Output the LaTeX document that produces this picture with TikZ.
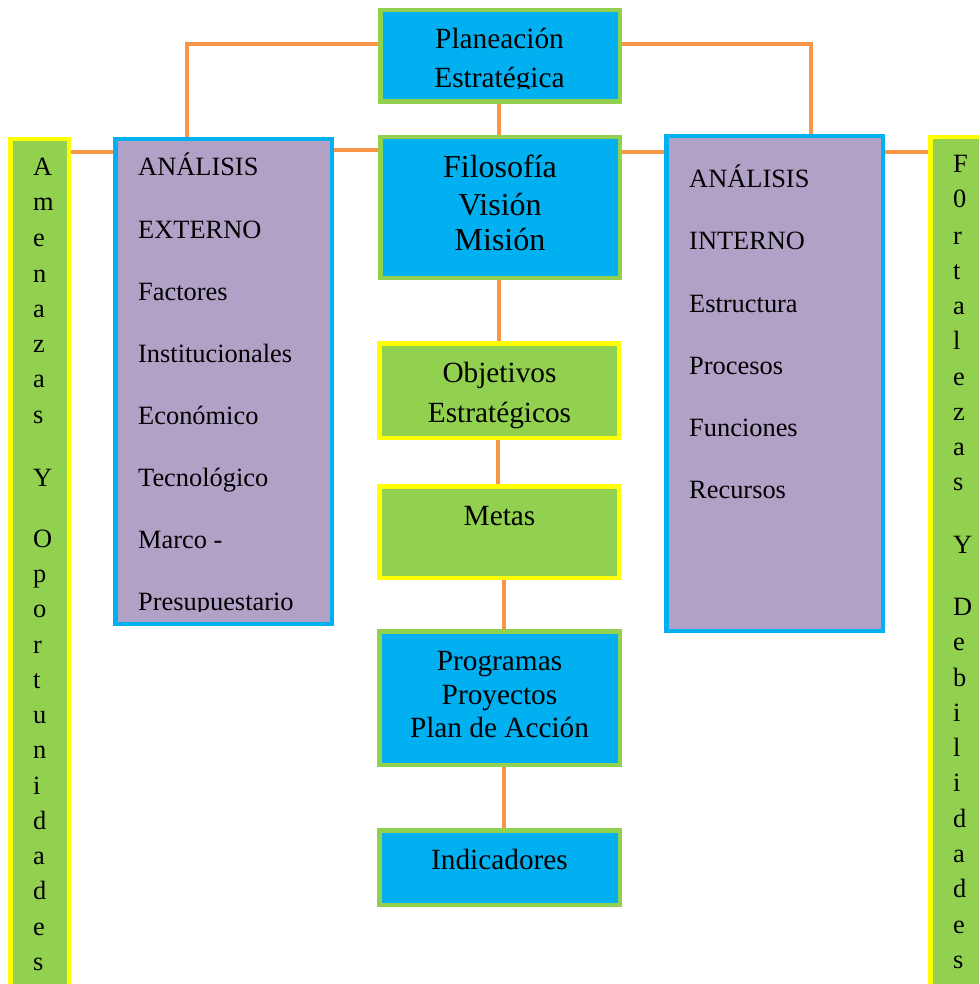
\documentclass[tikz,border=0pt]{standalone}
\usepackage{fontspec}
\setmainfont{Liberation Serif}
\definecolor{cblue}{HTML}{00B0F0}
\definecolor{cgreen}{HTML}{92D050}
\definecolor{cpurple}{HTML}{B2A1C7}
\definecolor{cyellow}{HTML}{FFFF00}
\definecolor{corange}{HTML}{F79646}
\tikzset{
  boxbase/.style={rectangle, inner sep=0, line width=4.5pt, minimum width=239.5pt},
  bluebox/.style={boxbase, fill=cblue, draw=cgreen},
  greenbox/.style={boxbase, fill=cgreen, draw=cyellow},
  purplebox/.style={boxbase, fill=cpurple, draw=cblue, minimum width=216.5pt},
  colbox/.style={boxbase, fill=cgreen, draw=cyellow},
  conn/.style={draw=corange, line width=4pt},
  txt/.style={inner sep=0, anchor=base},
  ltxt/.style={inner sep=0, anchor=base west},
  fmid/.style={font=\fontsize{29.3}{33}\selectfont},
  fbig/.style={font=\fontsize{32}{36}\selectfont},
  fsmall/.style={font=\fontsize{26.4}{30}\selectfont}
}
\begin{document}
\begin{tikzpicture}[x=1pt, y=-1pt]
\clip (0,0) rectangle (979,984);
\fill[white] (0,0) rectangle (979,984);
% boxes
\node[bluebox, minimum height=91.5pt] (plan) at (500,56) {};
\node[bluebox, minimum height=140.5pt] (filo) at (500,207.5) {};
\node[greenbox, minimum height=94.5pt] (obj) at (499,390.5) {};
\node[greenbox, minimum height=91.5pt] (metas) at (499,532) {};
\node[bluebox, minimum width=240.5pt, minimum height=133.5pt] (prog) at (499.5,698) {};
\node[bluebox, minimum width=240.5pt, minimum height=74.5pt] (ind) at (499.5,867.5) {};
\node[purplebox, minimum height=484.5pt] (ext) at (223.5,381.5) {};
\node[purplebox, minimum height=494.5pt] (int) at (774.5,383.5) {};
\node[colbox, minimum width=58.5pt, minimum height=858.5pt] (amen) at (39.5,568.5) {};
\node[colbox, minimum width=57.5pt, minimum height=860.5pt] (fort) at (959,567.5) {};
% connectors
\draw[conn] (plan.west |- 0,44) -| (ext.north -| 187,0);
\draw[conn] (plan.east |- 0,44) -| (int.north -| 811,0);
\draw[conn] (plan.south -| 499,0) -- (filo.north -| 499,0);
\draw[conn] (amen.east |- 0,152) -- (ext.west |- 0,152);
\draw[conn] (ext.east |- 0,150) -- (filo.west |- 0,150);
\draw[conn] (filo.east |- 0,152) -- (int.west |- 0,152);
\draw[conn] (int.east |- 0,152) -- (fort.west |- 0,152);
\draw[conn] (filo.south -| 499,0) -- (obj.north -| 499,0);
\draw[conn] (obj.south -| 498,0) -- (metas.north -| 498,0);
\draw[conn] (metas.south -| 504,0) -- (prog.north -| 504,0);
\draw[conn] (prog.south -| 504,0) -- (ind.north -| 504,0);
% middle texts
\node[txt, fmid] (tplan1) at (499.5,49) {Planeación};
\begin{scope}
\clip (380,55) rectangle (620,88.5);
\node[txt, fmid] (tplan2) at (499.5,87.5) {Estratégica};
\end{scope}
\node[txt, fbig] (tfilo1) at (500,178) {Filosofía};
\node[txt, fbig] (tfilo2) at (500,215) {Visión};
\node[txt, fbig] (tfilo3) at (500,251) {Misión};
\node[txt, fmid] (tobj1) at (499.5,382) {Objetivos};
\node[txt, fmid] (tobj2) at (499.5,422) {Estratégicos};
\node[txt, fmid] (tmetas) at (499.5,525) {Metas};
\node[txt, fmid] (tprog1) at (499.5,670) {Programas};
\node[txt, fmid] (tprog2) at (499.5,704) {Proyectos};
\node[txt, fmid] (tprog3) at (499.5,737) {Plan de Acción};
\node[txt, fmid] (tind) at (499.5,869) {Indicadores};
% externo
\begin{scope}
\clip (116,140) rectangle (331,611);
\foreach \t/\y [count=\i] in {ANÁLISIS/176, EXTERNO/238, Factores/300, Institucionales/362, Económico/424, Tecnológico/486, Marco -/548, Presupuestario/610}
  \node[ltxt, fsmall] (te\i) at (138,\y) {\t};
\end{scope}
% interno
\foreach \t/\y [count=\i] in {ANÁLISIS/188, INTERNO/250, Estructura/312, Procesos/374, Funciones/436, Recursos/498}
  \node[ltxt, fsmall] (ti\i) at (689,\y) {\t};
% vertical columns
\foreach \t/\y [count=\i] in {A/176, m/211, e/246.5, n/282, a/317, z/352, a/387.5, s/423, Y/486, O/547, p/582, o/617.5, r/653, t/688, u/723, n/758.5, i/794, d/829, a/864, d/899.5, e/935, s/970}
  \node[ltxt, fsmall] (ta\i) at (33,\y) {\t};
\foreach \t/\y [count=\i] in {F/173, 0/208, r/244, t/279, a/314, l/349.5, e/385, z/420, a/455, s/490, Y/553, D/615, e/650, b/686, i/721, l/756, i/791, d/827, a/862, d/897, e/933, s/968}
  \node[ltxt, fsmall] (tf\i) at (953,\y) {\t};
\end{tikzpicture}
\end{document}
